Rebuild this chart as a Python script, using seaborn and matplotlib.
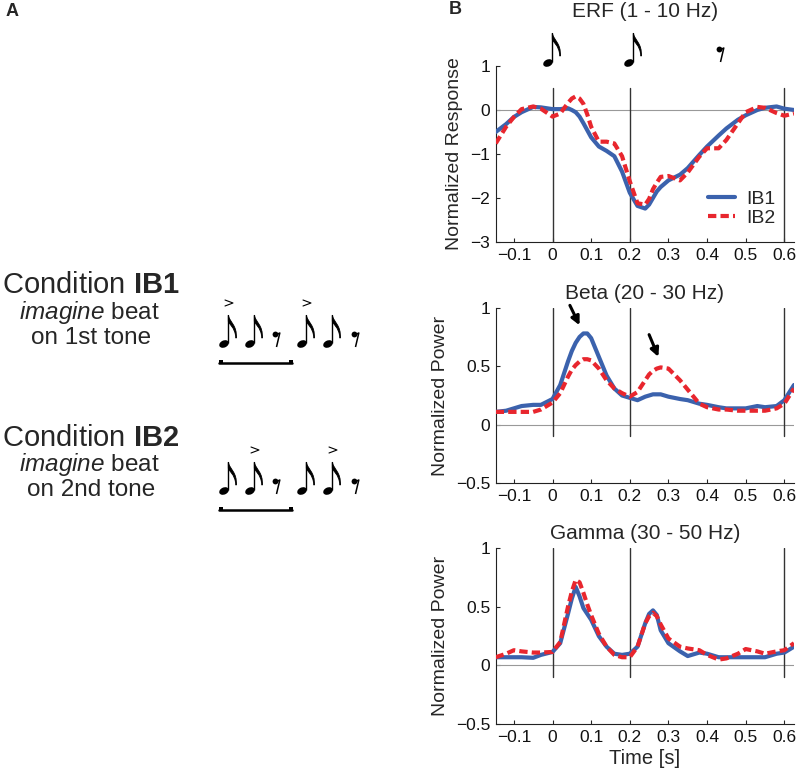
import numpy as np
import pandas as pd
import matplotlib
matplotlib.use('Agg')
import matplotlib.pyplot as plt
from matplotlib.patches import Ellipse, PathPatch
from matplotlib.path import Path
import seaborn as sns

# time points (s)
time = [-0.147, -0.12, -0.1, -0.08, -0.05, -0.03, 0.0, 0.02, 0.04, 0.05, 0.06, 0.07,
        0.08, 0.09, 0.1, 0.12, 0.14, 0.16, 0.18, 0.2, 0.22, 0.24, 0.25, 0.26, 0.27, 0.28,
        0.3, 0.33, 0.35, 0.38, 0.4, 0.43, 0.45, 0.48, 0.5, 0.53, 0.55, 0.58, 0.6, 0.625]

erf_ib1 = [-0.50, -0.32, -0.16, -0.05, 0.07, 0.06, 0.02, 0.02, 0.04, 0.0, -0.05, -0.15,
           -0.30, -0.46, -0.62, -0.83, -0.93, -1.05, -1.40, -1.88, -2.18, -2.24, -2.15, -2.00, -1.85, -1.75,
           -1.60, -1.47, -1.32, -1.02, -0.83, -0.58, -0.42, -0.22, -0.12, 0.0, 0.05, 0.08, 0.03, 0.0]
erf_ib2 = [-0.76, -0.38, -0.16, 0.02, 0.08, 0.03, -0.15, -0.08, 0.16, 0.26, 0.31, 0.26,
           0.14, -0.10, -0.38, -0.72, -0.72, -0.76, -1.05, -1.62, -2.12, -2.15, -2.02, -1.80, -1.65, -1.52,
           -1.50, -1.60, -1.42, -1.06, -0.87, -0.87, -0.68, -0.30, -0.05, 0.07, 0.05, -0.07, -0.13, -0.08]

beta_ib1 = [0.11, 0.12, 0.14, 0.16, 0.17, 0.17, 0.22, 0.34, 0.54, 0.63, 0.70, 0.75,
            0.78, 0.78, 0.74, 0.58, 0.42, 0.31, 0.25, 0.23, 0.21, 0.24, 0.25, 0.26, 0.26, 0.26,
            0.24, 0.22, 0.21, 0.18, 0.17, 0.15, 0.14, 0.14, 0.14, 0.16, 0.15, 0.16, 0.21, 0.34]
beta_ib2 = [0.11, 0.11, 0.11, 0.11, 0.11, 0.13, 0.19, 0.27, 0.41, 0.47, 0.51, 0.54,
            0.56, 0.56, 0.55, 0.48, 0.38, 0.31, 0.27, 0.24, 0.28, 0.38, 0.43, 0.46, 0.48, 0.49,
            0.48, 0.38, 0.30, 0.18, 0.15, 0.13, 0.13, 0.12, 0.12, 0.12, 0.12, 0.14, 0.18, 0.31]

gamma_ib1 = [0.07, 0.07, 0.07, 0.07, 0.065, 0.09, 0.115, 0.19, 0.44, 0.57, 0.67, 0.59,
             0.49, 0.44, 0.39, 0.25, 0.16, 0.10, 0.09, 0.10, 0.16, 0.36, 0.44, 0.47, 0.43, 0.30,
             0.19, 0.12, 0.08, 0.11, 0.10, 0.07, 0.07, 0.07, 0.07, 0.07, 0.07, 0.10, 0.11, 0.16]
gamma_ib2 = [0.07, 0.10, 0.13, 0.12, 0.11, 0.11, 0.115, 0.20, 0.50, 0.63, 0.73, 0.71,
             0.62, 0.52, 0.43, 0.27, 0.16, 0.09, 0.07, 0.07, 0.16, 0.36, 0.42, 0.45, 0.42, 0.35,
             0.23, 0.16, 0.145, 0.13, 0.09, 0.05, 0.06, 0.10, 0.14, 0.12, 0.10, 0.12, 0.13, 0.19]

conditions = ['IB1', 'IB2']
titles = ['ERF (1 - 10 Hz)', 'Beta (20 - 30 Hz)', 'Gamma (30 - 50 Hz)']
ylabels = ['Normalized Response', 'Normalized Power', 'Normalized Power']
xticks = [-0.1, 0, 0.1, 0.2, 0.3, 0.4, 0.5, 0.6]
tone_lines = [0, 0.2, 0.6]

sns.set_style('ticks')
plt.rcParams['font.family'] = ['Liberation Sans', 'DejaVu Sans']
plt.rcParams['axes.unicode_minus'] = True
plt.rcParams['mathtext.fontset'] = 'custom'
plt.rcParams['mathtext.rm'] = 'Liberation Sans'
plt.rcParams['mathtext.it'] = 'Liberation Sans:italic'
plt.rcParams['mathtext.bf'] = 'Liberation Sans:bold'

blue = '#3B62AD'
red = '#E8262E'

fig = plt.figure(figsize=(7.99, 7.73), dpi=100)
W, H = 799, 773


def px_axes(left, top, right, bottom):
    return fig.add_axes([left / W, 1 - bottom / H, (right - left) / W, (bottom - top) / H])


def fmt(v):
    return ('\u2212' + f'{abs(v):g}') if v < 0 else f'{v:g}'


panels = [
    (erf_ib1, erf_ib2, 66, 242, (-3, 1), [-3, -2, -1, 0, 1], -3, 0.5, 35),
    (beta_ib1, beta_ib2, 307.7, 483.3, (-0.5, 1), [-0.5, 0, 0.5, 1], -0.1, 1, 6.5),
    (gamma_ib1, gamma_ib2, 548.3, 724, (-0.5, 1), [-0.5, 0, 0.5, 1], -0.1, 1, 6.5),
]

axes = []
for i, (s1, s2, top, bot, ylim, yticks, vlo, vhi, tpad) in enumerate(panels):
    ax = px_axes(495.7, top, 794, bot)
    df = pd.DataFrame({
        't': time * 2,
        'value': list(s1) + list(s2),
        'cond': ['IB1'] * len(time) + ['IB2'] * len(time),
    })
    ax.axhline(0, color='#999999', lw=0.8, zorder=1)
    for xv in tone_lines:
        ax.plot([xv, xv], [vlo, vhi], color='#333333', lw=1.0, zorder=1)
    sns.lineplot(data=df, x='t', y='value', hue='cond', style='cond',
                 palette={'IB1': blue, 'IB2': red},
                 dashes={'IB1': '', 'IB2': (2, 1)},
                 linewidth=3, ax=ax, legend=(i == 0), zorder=3)
    ax.set_xlim(-0.147, 0.625)
    ax.set_ylim(*ylim)
    ax.set_xticks(xticks)
    ax.set_xticklabels([fmt(v) for v in xticks])
    ax.set_yticks(yticks)
    ax.set_yticklabels([fmt(v) for v in yticks])
    ax.tick_params(direction='in', length=3, width=0.8, labelsize=12.5, pad=4,
                   labelcolor='#111111')
    for sp in ['top', 'right']:
        ax.spines[sp].set_visible(False)
    for sp in ['left', 'bottom']:
        ax.spines[sp].set_linewidth(0.8)
        ax.spines[sp].set_color('#222222')
    ax.set_ylabel(ylabels[i], fontsize=14, labelpad=5)
    ax.set_xlabel('Time [s]' if i == 2 else '', fontsize=14.5, labelpad=3)
    ax.set_title(titles[i], fontsize=15, pad=tpad)
    axes.append(ax)

leg = axes[0].legend(loc='lower right', bbox_to_anchor=(0.965, 0.04), frameon=False,
                     fontsize=14, handlelength=1.4, handletextpad=0.6,
                     borderaxespad=0, labelspacing=0.1)
for line in leg.get_lines():
    line.set_linewidth(3)

# arrows in beta panel
for (x0, y0, x1, y1) in [(0.045, 1.02, 0.07, 0.85), (0.25, 0.77, 0.274, 0.58)]:
    axes[1].annotate('', xy=(x1, y1), xytext=(x0, y0),
                     arrowprops=dict(arrowstyle='-|>,head_width=0.25,head_length=0.5',
                                     color='black', lw=2.2, shrinkA=0, shrinkB=0))

# overlay in pixel coordinates for panel A and music symbols
ov = fig.add_axes([0, 0, 1, 1], zorder=10)
ov.set_xlim(0, W)
ov.set_ylim(H, 0)
ov.axis('off')
ov.patch.set_alpha(0)

ov.text(12, 12, 'A', fontsize=13, fontweight='bold', ha='center', va='center')
ov.text(455, 10, 'B', fontsize=13, fontweight='bold', ha='center', va='center')


def note(xh, yh, stem=29):
    ov.add_patch(Ellipse((xh, yh), 10, 7, angle=-25, color='black', lw=0))
    xs = xh + 4.3
    top = yh - stem
    ov.plot([xs, xs], [yh - 1, top], color='black', lw=1.0, solid_capstyle='butt')
    verts = [(xs, top), (xs + 1, top + 7), (xs + 9, top + 10), (xs + 8, top + 23),
             (xs + 7.5, top + 23), (xs + 7, top + 12), (xs, top + 9), (xs, top + 6), (xs, top)]
    codes = [Path.MOVETO, Path.CURVE4, Path.CURVE4, Path.CURVE4,
             Path.LINETO, Path.CURVE4, Path.CURVE4, Path.CURVE4, Path.CLOSEPOLY]
    ov.add_patch(PathPatch(Path(verts, codes), facecolor='black', edgecolor='black', lw=0.6))


def rest(x, y):
    # dot at upper left, stroke to upper right then down-left
    ov.plot([x - 2.5], [y - 5], 'o', color='black', ms=4.2, mew=0)
    ov.plot([x - 2.5, x + 2.8, x - 0.5], [y - 3.5, y - 6, y + 8],
            color='black', lw=1.1, solid_capstyle='butt')


def bracket(x0, x1, y):
    ov.plot([x0, x1], [y, y], color='black', lw=1.8)
    ov.plot([x0 + 1.5, x1 - 1.5], [y - 1, y - 1], 's', color='black', ms=3.5, mew=0)


def accent(x, y):
    ov.plot([x - 4, x + 4, x - 4], [y - 3, y, y + 3], color='black', lw=0.8)


def motif(y_head, accent_idx):
    xs = [224, 250, 302, 328]
    rests = [277, 356]
    for j, xn in enumerate(xs):
        note(xn, y_head)
        if j in accent_idx:
            accent(xn + 5, y_head - 41)
    for xr in rests:
        rest(xr, y_head - 5)
    bracket(219, 292, y_head + 19)


ov.text(91, 285, r'Condition $\mathbf{IB1}$', fontsize=21, ha='center', va='center')
ov.text(89, 312, r'$\mathit{imagine}$ beat', fontsize=17.5, ha='center', va='center')
ov.text(91, 338, 'on 1st tone', fontsize=17.5, ha='center', va='center')
ov.text(91, 438, r'Condition $\mathbf{IB2}$', fontsize=21, ha='center', va='center')
ov.text(89, 464, r'$\mathit{imagine}$ beat', fontsize=17.5, ha='center', va='center')
ov.text(91, 490, 'on 2nd tone', fontsize=17.5, ha='center', va='center')

motif(344, [0, 2])
motif(491, [1, 3])

# notes above the ERF panel
note(548, 63, stem=30)
note(629, 63, stem=30)
rest(721, 54)

fig.savefig('out.png', dpi=100)
